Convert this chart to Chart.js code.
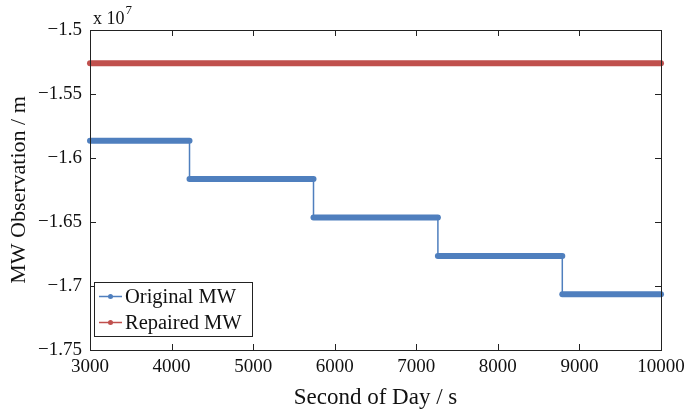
<!DOCTYPE html>
<html>
<head>
<meta charset="utf-8">
<script src="https://cdn.jsdelivr.net/npm/chart.js@4/dist/chart.umd.min.js"></script>
<style>
html,body{margin:0;padding:0;background:#fff;}
#wrap{width:685px;height:412px;position:relative;}
</style>
</head>
<body>
<div id="wrap"><canvas id="c" width="685" height="412"></canvas></div>
<script>
// ---- data ----
const stepStarts = [3000, 4220, 5740, 7265, 8790];
const stepEnds   = [4220, 5740, 7265, 8790, 10000];
const originalMW = [-15865000, -16165000, -16465000, -16765000, -17065000];
const repairedX  = [3000, 10000];
const repairedMW = [-15260000, -15260000];
const xTicks = [3000, 4000, 5000, 6000, 7000, 8000, 9000, 10000];
const yTicks = [-15000000, -15500000, -16000000, -16500000, -17000000, -17500000];
const seriesNames = ['Original MW', 'Repaired MW'];

const BLUE = '#4F7FBE';
const RED = '#C0504D';
const FONT = "'Liberation Serif', 'Times New Roman', serif";

const origPts = [];
for (let i = 0; i < originalMW.length; i++) {
  origPts.push({x: stepStarts[i], y: originalMW[i]});
  origPts.push({x: stepEnds[i], y: originalMW[i]});
}
const repPts = repairedX.map((x, i) => ({x, y: repairedMW[i]}));

function fmtY(v) {
  const s = String(+(v / 1e7).toFixed(4));
  return s.replace('-', '\u2212');
}

const decor = {
  id: 'decor',
  afterDraw(chart) {
    const ctx = chart.ctx, a = chart.chartArea;
    const xs = chart.scales.x, ys = chart.scales.y;
    ctx.save();
    ctx.strokeStyle = '#222';
    ctx.lineWidth = 1;
    ctx.strokeRect(Math.round(a.left) + 0.5, Math.round(a.top) + 0.5,
                   Math.round(a.right - a.left), Math.round(a.bottom - a.top));
    const tl = 6;
    ctx.beginPath();
    xTicks.forEach(t => {
      const px = Math.round(xs.getPixelForValue(t)) + 0.5;
      ctx.moveTo(px, a.bottom); ctx.lineTo(px, a.bottom - tl);
      ctx.moveTo(px, a.top); ctx.lineTo(px, a.top + tl);
    });
    yTicks.forEach(t => {
      const py = Math.round(ys.getPixelForValue(t)) + 0.5;
      ctx.moveTo(a.left, py); ctx.lineTo(a.left + tl, py);
      ctx.moveTo(a.right, py); ctx.lineTo(a.right - tl, py);
    });
    ctx.stroke();
    // exponent label
    ctx.fillStyle = '#111';
    ctx.font = '18px ' + FONT;
    ctx.textBaseline = 'alphabetic';
    ctx.textAlign = 'left';
    ctx.fillText('x 10', a.left + 3, a.top - 6);
    const w = ctx.measureText('x 10').width;
    ctx.font = '13px ' + FONT;
    ctx.fillText('7', a.left + 3 + w + 1, a.top - 16);
    // legend
    const lx = a.left + 4, ly = 282.5, lw = 158, lh = 54;
    ctx.fillStyle = '#fff';
    ctx.fillRect(lx, ly, lw, lh);
    ctx.strokeStyle = '#222';
    ctx.strokeRect(lx + 0.5, ly, lw, lh);
    const cols = [BLUE, RED];
    seriesNames.forEach((name, i) => {
      const cy = ly + 14 + i * 26;
      ctx.strokeStyle = cols[i];
      ctx.lineWidth = 1.5;
      ctx.beginPath();
      ctx.moveTo(lx + 5, cy); ctx.lineTo(lx + 28, cy);
      ctx.stroke();
      ctx.fillStyle = cols[i];
      ctx.beginPath();
      ctx.arc(lx + 16.5, cy, 2.5, 0, Math.PI * 2);
      ctx.fill();
      ctx.fillStyle = '#111';
      ctx.font = '20.5px ' + FONT;
      ctx.textBaseline = 'middle';
      ctx.fillText(name, lx + 31, cy + 1);
    });
    ctx.restore();
  }
};

new Chart(document.getElementById('c'), {
  type: 'line',
  data: {
    datasets: [
      {
        label: seriesNames[0],
        data: origPts,
        borderColor: BLUE,
        backgroundColor: BLUE,
        pointRadius: 0,
        borderCapStyle: 'round',
        borderJoinStyle: 'round',
        borderWidth: 6,
        segment: {
          borderWidth: c => (c.p0.parsed.y === c.p1.parsed.y ? 6 : 1.5)
        },
        clip: false
      },
      {
        label: seriesNames[1],
        data: repPts,
        borderColor: RED,
        backgroundColor: RED,
        pointRadius: 0,
        borderCapStyle: 'round',
        borderWidth: 6,
        clip: false
      }
    ]
  },
  options: {
    responsive: false,
    animation: false,
    layout: {padding: {left: 6, right: 22, top: 30, bottom: 0}},
    plugins: {legend: {display: false}, tooltip: {enabled: false}},
    scales: {
      x: {
        type: 'linear',
        min: 3000, max: 10000,
        afterBuildTicks: s => { s.ticks = xTicks.map(v => ({value: v})); },
        afterFit: s => { s.height = 62; s.paddingRight = 24; },
        grid: {display: false, drawTicks: false},
        border: {display: false},
        ticks: {color: '#111', font: {family: FONT, size: 19}, padding: 6, maxRotation: 0,
                callback: v => String(v)},
        title: {display: true, text: 'Second of Day / s', color: '#111',
                font: {family: FONT, size: 23}, padding: {top: 0, bottom: 0}}
      },
      y: {
        type: 'linear',
        min: -17500000, max: -15000000,
        afterBuildTicks: s => { s.ticks = yTicks.map(v => ({value: v})); },
        afterFit: s => { s.width = 84; },
        grid: {display: false, drawTicks: false},
        border: {display: false},
        ticks: {color: '#111', font: {family: FONT, size: 19}, padding: 8,
                callback: v => fmtY(v)},
        title: {display: true, text: 'MW Observation / m', color: '#111',
                font: {family: FONT, size: 22}, padding: {top: 0, bottom: 0}}
      }
    }
  },
  plugins: [decor]
});
</script>
</body>
</html>
